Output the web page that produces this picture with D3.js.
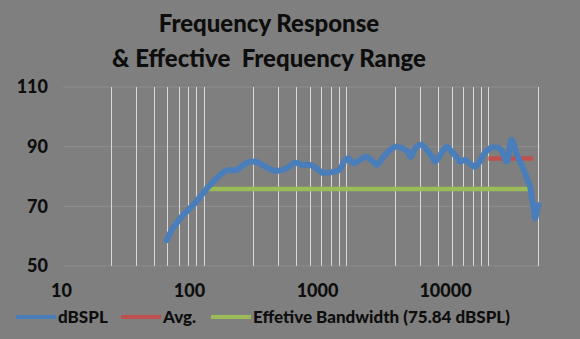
<!DOCTYPE html>
<html><head><meta charset="utf-8">
<script src="https://cdn.jsdelivr.net/npm/d3@7"></script>
<style>
html,body{margin:0;padding:0;background:#7f7f7f;}
svg{display:block;}
text{font-family:Lato,"Open Sans",sans-serif;font-weight:900;fill:#0d0d0d;}
</style></head><body>
<svg id="chart" width="580" height="339"></svg>
<script>
// ---- data ----
const titleLines = ["Frequency Response", "& Effective  Frequency Range"];
const xTickValues = [10, 100, 1000, 10000];
const yTickValues = [50, 70, 90, 110];
const minorGridFreqs = [20,30,40,50,60,70,80,90,200,300,400,500,600,700,800,900,2000,3000,4000,5000,6000,7000,8000,9000,20000];
const freq = [49.5,53.6,56,63,70,78,87,94.5,105,117,130,153,171,195,218,243,277,309,344,395,440,501,558,610,675,750,815,885,933,1010,1120,1240,1390,1480,1650,1840,2010,2240,2440,2560,2760,3060,3330,3620,3810,4130,4580,4970,5380,5670,6140,6660,7210,7810,8470,9240,10300,11100,12100,13100,14300,15000,15800,16600,17700,18100,18800,19200,19700,20200];
const dBSPL = [58.7,62.1,63.4,66.5,68.8,71,73.8,76,78.3,80.5,82,82.2,83.9,85,84.6,83.3,82,82,82.8,84.6,83.9,83.9,82.8,81.3,81.3,81.6,82.4,85.5,86.1,84.4,85.5,86.6,85,83.9,86.6,88.9,90,89.5,88.3,86.6,89.5,90.6,88.9,86.6,85,87.2,90,88.3,86.6,85,85.5,84.4,83.3,85,87.8,89.5,89.7,88.9,85,92.2,87.2,85,82.8,80,76.6,73.2,68.8,66,68.2,70.4];
const avgFreq = [9000, 18600];
const avgValue = [86, 86];
const bwFreq = [89.5, 17200];
const bwValue = [75.84, 75.84];
const legendLabels = ["dBSPL", "Avg.", "Effetive Bandwidth (75.84 dBSPL)"];
const colors = ["#4a7ebb", "#c0504d", "#9bbb59"];

// ---- layout ----
const svg = d3.select("#chart");
const x = d3.scaleLog().domain([10, 20000]).range([68, 537.7]);
const xLab = d3.scaleLog().domain([10, 10000]).range([61, 445]);
const y = d3.scaleLinear().domain([50, 110]).range([266, 87]);

// title
svg.append("g").selectAll("text").data(titleLines).join("text")
  .attr("x", 269).attr("y", (d,i)=> 32 + i*34.5)
  .attr("text-anchor","middle").style("font-size","24px")
  .style("white-space","pre").attr("xml:space","preserve")
  .text(d=>d);

// horizontal gridlines
svg.append("g").selectAll("line").data(yTickValues).join("line")
  .attr("x1", 63).attr("x2", 540)
  .attr("y1", d=>y(d)).attr("y2", d=>y(d))
  .attr("stroke", "#8e8e8e").attr("stroke-width", 1);

// vertical minor gridlines
svg.append("g").selectAll("line").data(minorGridFreqs).join("line")
  .attr("x1", d=>Math.round(x(d))+0.5).attr("x2", d=>Math.round(x(d))+0.5)
  .attr("y1", y(110)).attr("y2", y(50))
  .attr("stroke", "#d9d9d9").attr("stroke-width", 1);

// y axis
const yAxis = svg.append("g").attr("transform","translate(48,0)")
  .call(d3.axisLeft(y).tickValues(yTickValues).tickSize(0).tickPadding(0));
yAxis.select(".domain").remove();
yAxis.selectAll("text").style("font-size","18px").attr("fill","#0d0d0d").attr("font-family",null);

// x axis labels
const xAxis = svg.append("g").attr("transform","translate(0,284)")
  .call(d3.axisBottom(xLab).tickValues(xTickValues).tickFormat(d3.format("d")).tickSize(0).tickPadding(0));
xAxis.select(".domain").remove();
xAxis.selectAll("text").style("font-size","18px").attr("fill","#0d0d0d").attr("font-family",null);

// series
const line = d3.line().x(d=>x(d[0])).y(d=>y(d[1]));
svg.append("path").datum(bwFreq.map((f,i)=>[f,bwValue[i]]))
  .attr("d", line).attr("fill","none").attr("stroke",colors[2]).attr("stroke-width",4.5);
svg.append("path").datum(avgFreq.map((f,i)=>[f,avgValue[i]]))
  .attr("d", line).attr("fill","none").attr("stroke",colors[1]).attr("stroke-width",4.5);
svg.append("path").datum(freq.map((f,i)=>[f,dBSPL[i]]))
  .attr("d", d3.line().x(d=>x(d[0])).y(d=>y(d[1])).curve(d3.curveCatmullRom))
  .attr("fill","none").attr("stroke",colors[0]).attr("stroke-width",6)
  .attr("stroke-linejoin","round").attr("stroke-linecap","round");

// legend
const legendX = [16, 121, 211];
const lg = svg.append("g").selectAll("g").data(legendLabels).join("g")
  .attr("transform",(d,i)=>`translate(${legendX[i]},317)`);
lg.append("line").attr("x1",0).attr("x2",40).attr("y1",0).attr("y2",0)
  .attr("stroke",(d,i)=>colors[i]).attr("stroke-width",4);
lg.append("text").attr("x",42).attr("y",6).style("font-size","17px").text(d=>d);
</script>
</body></html>
